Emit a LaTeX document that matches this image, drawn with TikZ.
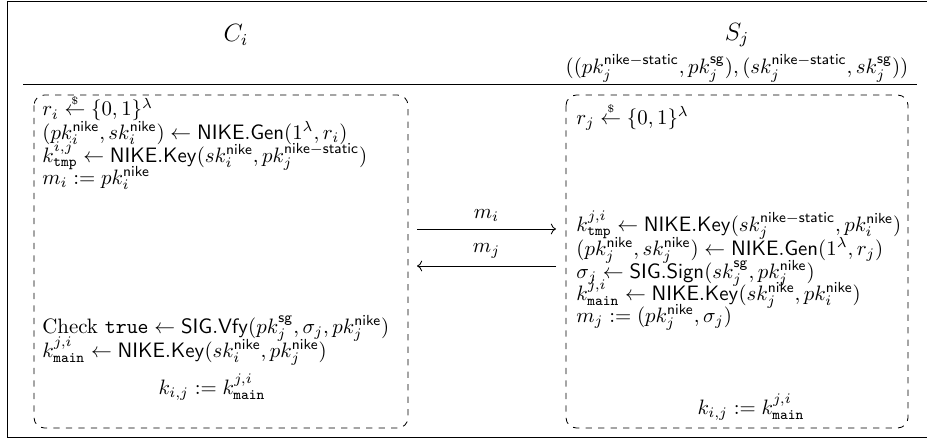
\documentclass[tikz,border=0pt]{standalone}
\usepackage{amsmath,amssymb}
\usepackage{tikz}
\usetikzlibrary{positioning,calc,arrows.meta}

\newcommand{\nk}{\mathsf{nike}}
\newcommand{\nks}{\mathsf{nike-static}}
\newcommand{\sg}{\mathsf{sg}}
\newcommand{\rnd}{\stackrel{\scriptscriptstyle\mathsf{\$}}{\leftarrow}}
\newcommand{\NKey}{\mathsf{NIKE.Key}}
\newcommand{\NGen}{\mathsf{NIKE.Gen}}

\tikzset{
  party/.style={font=\large},
  partybox/.style={draw, dashed, rounded corners=5pt},
  line/.style={anchor=base west, inner sep=0pt},
  msg/.style={->},
}

\begin{document}
\begin{tikzpicture}[x=0.48pt, y=-0.48pt]
    \useasboundingbox (0,0) rectangle (927,439);
    % frame
    \draw (927,1) -- (7,1) -- (7,437) -- (927,437);
    \draw (23,84) -- (917,84);

    % parties
    \node[party] (ci) at (236,35) {$C_i$};
    \node[party] (sj) at (737,35) {$S_j$};
    \node (keys) at (737,68) {$((pk_j^{\nks}, pk_j^{\sg}), (sk_j^{\nks}, sk_j^{\sg}))$};

    % boxes
    \draw[partybox] (34,95) rectangle (408,428);
    \draw[partybox] (566,95) rectangle (908,428);

    % client side
    \node[line] (c1) at (42,116) {$r_i \rnd \{0,1\}^\lambda$};
    \node[line] (c2) at (42,139) {$(pk_i^{\nk}, sk_i^{\nk}) \leftarrow \NGen(1^\lambda, r_i)$};
    \node[line] (c3) at (42,162) {$k_{\mathtt{tmp}}^{i,j} \leftarrow \NKey(sk_i^{\nk}, pk_j^{\nks})$};
    \node[line] (c4) at (42,184) {$m_i := pk_i^{\nk}$};
    \node[line] (c5) at (42,333) {Check $\mathtt{true} \leftarrow \mathsf{SIG.Vfy}(pk_j^{\sg}, \sigma_j, pk_j^{\nk})$};
    \node[line] (c6) at (42,357) {$k_{\mathtt{main}}^{j,i} \leftarrow \NKey(sk_i^{\nk}, pk_j^{\nk})$};
    \node[anchor=base] (c7) at (212,394) {$k_{i,j} := k_{\mathtt{main}}^{j,i}$};

    % server side
    \node[line] (s1) at (576,124) {$r_j \rnd \{0,1\}^\lambda$};
    \node[line] (s2) at (576,231) {$k_{\mathtt{tmp}}^{j,i} \leftarrow \NKey(sk_j^{\nks}, pk_i^{\nk})$};
    \node[line] (s3) at (576,255) {$(pk_j^{\nk}, sk_j^{\nk}) \leftarrow \NGen(1^\lambda, r_j)$};
    \node[line] (s4) at (576,278) {$\sigma_j \leftarrow \mathsf{SIG.Sign}(sk_j^{\sg}, pk_j^{\nk})$};
    \node[line] (s5) at (576,300) {$k_{\mathtt{main}}^{j,i} \leftarrow \NKey(sk_j^{\nk}, pk_i^{\nk})$};
    \node[line] (s6) at (576,322) {$m_j := (pk_j^{\nk}, \sigma_j)$};
    \node[anchor=base] (s7) at (751,414) {$k_{i,j} := k_{\mathtt{main}}^{j,i}$};

    % messages
    \coordinate (mi-a) at (417,229);
    \coordinate (mi-b) at (556,229);
    \coordinate (mj-a) at (556,266);
    \coordinate (mj-b) at (417,266);
    \draw[msg] (mi-a) -- node[above] (mi) {$m_i$} (mi-b);
    \draw[msg] (mj-a) -- node[above] (mj) {$m_j$} (mj-b);
\end{tikzpicture}
\end{document}
